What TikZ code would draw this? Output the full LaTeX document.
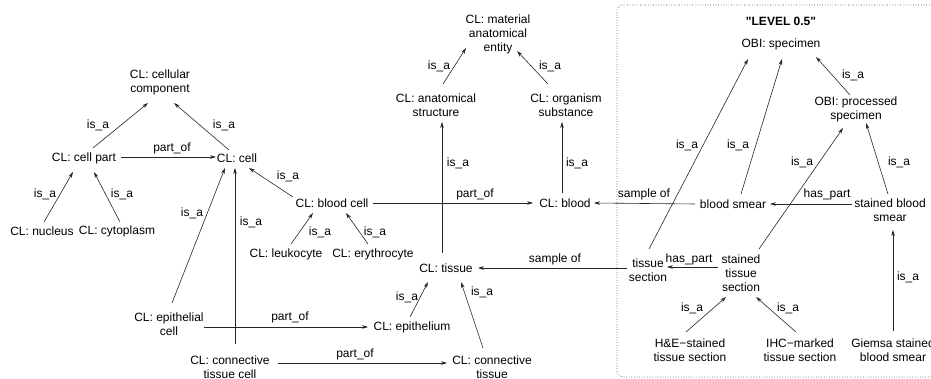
\documentclass[tikz,border=0pt]{standalone}
\usepackage{fontspec}
\setmainfont{Liberation Sans}
\newfontfamily\plainsans{Liberation Sans}[Ligatures=NoCommon, Mapping={}]
\usetikzlibrary{arrows.meta}
\tikzset{
  n/.style={font=\fontsize{12}{14}\selectfont, align=center, inner sep=0pt},
  lab/.style={font=\fontsize{12}{14}\selectfont, inner sep=0pt},
  arr/.style={-{Stealth[length=6pt,width=3.6pt]}, line width=0.6pt, draw=black!85},
  box/.style={dotted, line width=0.6pt, draw=black!80, rounded corners=5pt}
}
\newcommand{\off}[2]{([shift={#1}]#2.center)}
\begin{document}
\begin{tikzpicture}[x=1pt,y=-1pt]
\useasboundingbox (0,0) rectangle (931,379);
% level 0.5 box
\draw[box] (945,5) -- (617,5) -- (617,377) -- (945,377);
% nodes
\node[n] (cc) at (160,82) {CL: cellular\\component};
\node[n] (cp) at (84,158) {CL: cell part};
\node[n] (cell) at (237,158) {CL: cell};
\node[n] (nuc) at (42,231) {CL: nucleus};
\node[n] (cyt) at (117,231) {CL: cytoplasm};
\node[n] (bc) at (332,203) {CL: blood cell};
\node[n] (leu) at (286,254) {CL: leukocyte};
\node[n] (ery) at (373,254) {CL: erythrocyte};
\node[n] (tis) at (446,268) {CL: tissue};
\node[n] (epi) at (412,327) {CL: epithelium};
\node[n] (ct) at (492,367) {CL: connective\\tissue};
\node[n] (ec) at (169,324) {CL: epithelial\\cell};
\node[n] (ctc) at (230,367) {CL: connective\\tissue cell};
\node[n] (mae) at (498,34) {CL: material\\anatomical\\entity};
\node[n] (as) at (436,105) {CL: anatomical\\structure};
\node[n] (os) at (566,105) {CL: organism\\substance};
\node[n] (blood) at (565,203) {CL: blood};
\node[n, font=\fontsize{12}{14}\selectfont\plainsans\bfseries] (lvl) at (781,21) {"LEVEL 0.5"};
\node[n] (spec) at (781,44) {OBI: specimen};
\node[n] (ps) at (856,109) {OBI: processed\\specimen};
\node[n] (bs) at (733,204) {blood smear};
\node[n] (sbs) at (890,210) {stained blood\\smear};
\node[n] (ts) at (648,270) {tissue\\section};
\node[n] (sts) at (741,273) {stained\\tissue\\section};
\node[n] (he) at (690,350) {H\&E−stained\\tissue section};
\node[n] (ihc) at (800,350) {IHC−marked\\tissue section};
\node[n] (gbs) at (893,350) {Giemsa stained\\blood smear};
% edges
\draw[arr] \off{(9,-10)}{cp} -- \off{(-12,21)}{cc} node[lab] at (98,125) {is\_a};
\draw[arr] \off{(-8,-8)}{cell} -- \off{(14,21)}{cc} node[lab] at (224,125) {is\_a};
\draw[arr] \off{(37,-1)}{cp} -- \off{(-21,-1)}{cell} node[lab] at (172,148) {part\_of};
\draw[arr] \off{(2,-9)}{nuc} -- \off{(-11,14)}{cp} node[lab] at (45,194) {is\_a};
\draw[arr] \off{(3,-9)}{cyt} -- \off{(10,14)}{cp} node[lab] at (122,194) {is\_a};
\draw[arr] \off{(3,-21)}{ec} -- \off{(-12,10)}{cell} node[lab] at (192,213) {is\_a};
\draw[arr] \off{(5,-23)}{ctc} -- \off{(-2,10)}{cell} node[lab] at (251,222) {is\_a};
\draw[arr] \off{(-39,-6)}{bc} -- \off{(12,10)}{cell} node[lab] at (288,176) {is\_a};
\draw[arr] \off{(5,-10)}{leu} -- \off{(-19,10)}{bc} node[lab] at (320,232) {is\_a};
\draw[arr] \off{(-5,-10)}{ery} -- \off{(14,10)}{bc} node[lab] at (375,232) {is\_a};
\draw[arr] \off{(41,0)}{bc} -- \off{(-32,0)}{blood} node[lab] at (475,194) {part\_of};
\draw[arr] \off{(-4,-15)}{tis} -- \off{(6,17)}{as} node[lab] at (458,163) {is\_a};
\draw[arr] \off{(-3,-10)}{blood} -- \off{(-4,17)}{os} node[lab] at (577,163) {is\_a};
\draw[arr] \off{(7,-21)}{as} -- \off{(-32,14)}{mae} node[lab] at (439,66) {is\_a};
\draw[arr] \off{(-18,-21)}{os} -- \off{(19,17)}{mae} node[lab] at (550,66) {is\_a};
\draw[arr] \off{(-2,-10)}{epi} -- \off{(-18,14)}{tis} node[lab] at (407,297) {is\_a};
\draw[arr] \off{(-9,-19)}{ct} -- \off{(15,14)}{tis} node[lab] at (482,292) {is\_a};
\draw[arr] \off{(35,3)}{ec} -- \off{(-44,0)}{epi} node[lab] at (290,317) {part\_of};
\draw[arr] \off{(48,-4)}{ctc} -- \off{(-45,-4)}{ct} node[lab] at (355,354) {part\_of};
\draw[arr] \off{(-21,-2)}{ts} -- \off{(32,0)}{tis} node[lab] at (555,259) {sample of};
\draw[arr] \off{(-38,0)}{bs} -- \off{(29,0)}{blood} node[lab] at (644,194) {sample of};
\draw[arr] \off{(-38,-6)}{sbs} -- \off{(37,0)}{bs} node[lab] at (827,194) {has\_part};
\draw[arr] \off{(-23,-6)}{sts} -- \off{(19,-3)}{ts} node[lab] at (689,259) {has\_part};
\draw[arr] \off{(1,-21)}{ts} -- \off{(-33,15)}{spec} node[lab] at (687,145) {is\_a};
\draw[arr] \off{(8,-10)}{bs} -- \off{(1,15)}{spec} node[lab] at (738,145) {is\_a};
\draw[arr] \off{(18,-24)}{sts} -- \off{(-13,19)}{ps} node[lab] at (802,162) {is\_a};
\draw[arr] \off{(-2,-16)}{sbs} -- \off{(10,14)}{ps} node[lab] at (899,162) {is\_a};
\draw[arr] \off{(-6,-14)}{ps} -- \off{(35,13)}{spec} node[lab] at (853,75) {is\_a};
\draw[arr] \off{(-4,-18)}{he} -- \off{(-15,24)}{sts} node[lab] at (692,308) {is\_a};
\draw[arr] \off{(-4,-18)}{ihc} -- \off{(15,24)}{sts} node[lab] at (788,308) {is\_a};
\draw[arr] \off{(0,-19)}{gbs} -- \off{(3,20)}{sbs} node[lab] at (908,277) {is\_a};
\end{tikzpicture}
\end{document}
